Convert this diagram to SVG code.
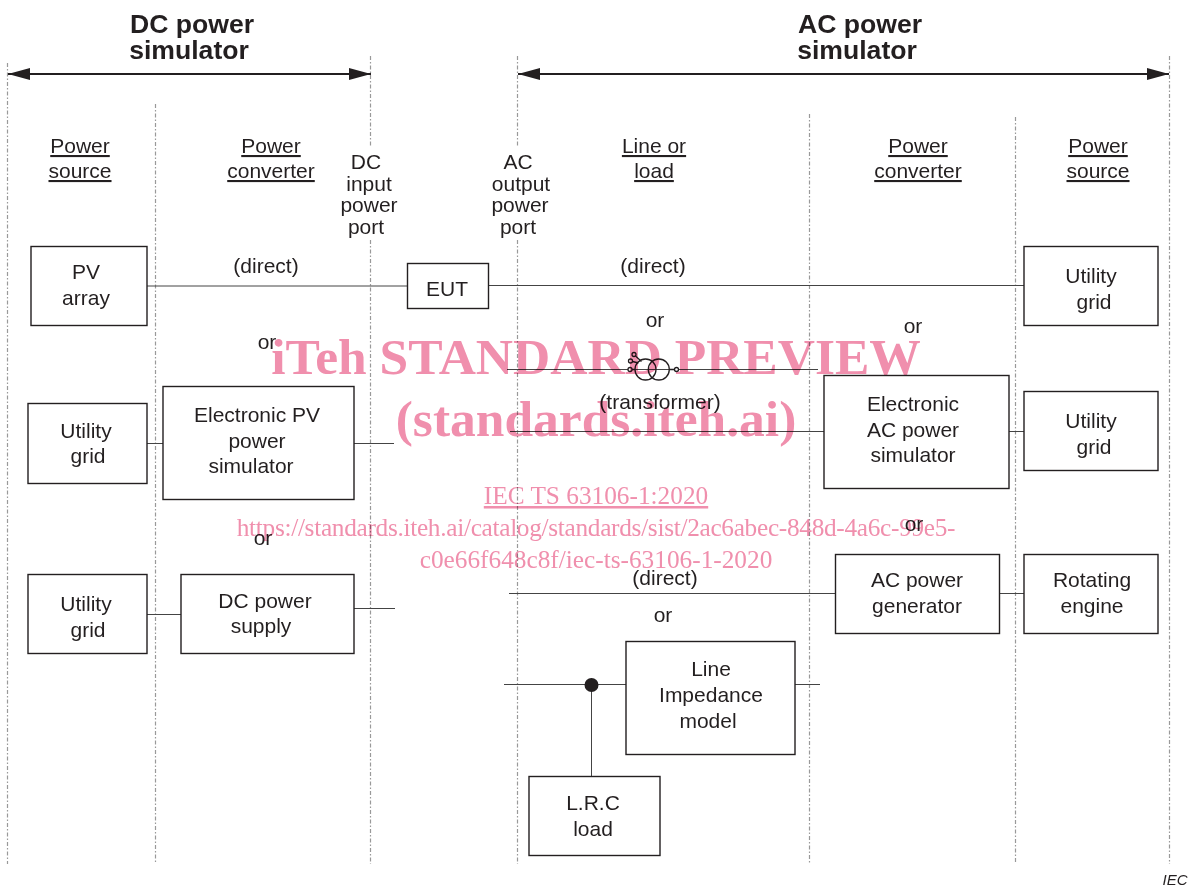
<svg xmlns="http://www.w3.org/2000/svg" width="1189" height="886" viewBox="0 0 1189 886">
<style>
text{font-family:"Liberation Sans",Arial,sans-serif;font-size:21px;fill:#231f20;text-anchor:middle}
.h{font-size:26.600px;font-weight:bold}
.u{text-decoration:underline}
.n rect{fill:#fff;stroke:#231f20;stroke-width:1.400}
.c line,.c path{stroke:#444;stroke-width:1;fill:none}
.d line{stroke:#999;stroke-width:1.200;stroke-dasharray:4 2 1.500 2;fill:none}
.w{mix-blend-mode:multiply}
.w text{font-family:"Liberation Serif",serif;fill:#f08fad}
.big{font-size:51.500px;font-weight:bold}
.sm{font-size:25.300px}
</style>
<defs><marker id="a" markerWidth="22" markerHeight="12" refX="22" refY="6" orient="auto-start-reverse" markerUnits="userSpaceOnUse"><path d="M0 0L22 6L0 12z" fill="#231f20"/></marker></defs>
<rect width="1189" height="886" fill="#fff"/>
<g class="d" id="dividers">
<line x1="7.500" y1="63" x2="7.500" y2="864"/><line x1="155.500" y1="104" x2="155.500" y2="864"/>
<line x1="370.500" y1="56" x2="370.500" y2="146"/><line x1="370.500" y1="240" x2="370.500" y2="864"/>
<line x1="517.500" y1="56" x2="517.500" y2="146"/><line x1="517.500" y1="240" x2="517.500" y2="864"/>
<line x1="809.500" y1="114" x2="809.500" y2="864"/><line x1="1015.500" y1="117" x2="1015.500" y2="864"/><line x1="1169.500" y1="56" x2="1169.500" y2="864"/>
</g>
<g class="c" id="connectors">
<line x1="147" y1="286" x2="407" y2="286"/><line x1="489" y1="285.500" x2="1024" y2="285.500"/>
<line x1="147" y1="443.500" x2="163" y2="443.500"/><line x1="354" y1="443.500" x2="394" y2="443.500"/>
<line x1="147" y1="614.500" x2="181" y2="614.500"/><line x1="354" y1="608.500" x2="395" y2="608.500"/>
<line x1="510" y1="431.500" x2="824" y2="431.500"/><line x1="1009" y1="431.500" x2="1024" y2="431.500"/>
<line x1="509" y1="593.500" x2="835" y2="593.500"/><line x1="1000" y1="593.500" x2="1024" y2="593.500"/>
<line x1="504" y1="684.500" x2="626" y2="684.500"/><line x1="795" y1="684.500" x2="820" y2="684.500"/>
<line x1="591.500" y1="684" x2="591.500" y2="776"/>
<line x1="507" y1="369.500" x2="818" y2="369.500"/>
<line x1="8" y1="74" x2="371" y2="74" style="stroke:#231f20;stroke-width:1.800" marker-start="url(#a)" marker-end="url(#a)"/>
<line x1="518" y1="74" x2="1169" y2="74" style="stroke:#231f20;stroke-width:1.800" marker-start="url(#a)" marker-end="url(#a)"/>
<circle cx="591.500" cy="685" r="7" fill="#231f20" style="stroke:none"/>
</g>
<g id="transformer" fill="none" stroke="#231f20" stroke-width="1.300">
<circle cx="645.500" cy="369.500" r="10.500"/><circle cx="658.800" cy="369.500" r="10.500"/>
<circle cx="630" cy="369.500" r="2" fill="#fff"/><circle cx="630.500" cy="361" r="2" fill="#fff"/><circle cx="634" cy="354.500" r="2" fill="#fff"/><circle cx="676.500" cy="369.500" r="2" fill="#fff"/>
<path d="M632 369.500h3M632.500 361.500l6 1.500M635.500 356l6 5.500M669.300 369.500h5.200"/>
</g>
<g class="n" id="pv-array"><rect x="31" y="246.500" width="116" height="79"/><text x="86" y="279">PV</text><text x="86" y="305">array</text></g>
<g class="n" id="eut"><rect x="407.500" y="263.500" width="81" height="45"/><text x="447" y="296">EUT</text></g>
<g class="n" id="grid-ac1"><rect x="1024" y="246.500" width="134" height="79"/><text x="1091" y="283">Utility</text><text x="1094" y="309">grid</text></g>
<g class="n" id="grid-dc1"><rect x="28" y="403.500" width="119" height="80"/><text x="86" y="438">Utility</text><text x="88" y="463">grid</text></g>
<g class="n" id="pv-sim"><rect x="163" y="386.500" width="191" height="113"/><text x="257" y="422">Electronic PV</text><text x="257" y="448">power</text><text x="251" y="473">simulator</text></g>
<g class="n" id="ac-sim"><rect x="824" y="375.500" width="185" height="113"/><text x="913" y="411">Electronic</text><text x="913" y="437">AC power</text><text x="913" y="462">simulator</text></g>
<g class="n" id="grid-ac2"><rect x="1024" y="391.500" width="134" height="79"/><text x="1091" y="428">Utility</text><text x="1094" y="454">grid</text></g>
<g class="n" id="grid-dc2"><rect x="28" y="574.500" width="119" height="79"/><text x="86" y="611">Utility</text><text x="88" y="637">grid</text></g>
<g class="n" id="dc-supply"><rect x="181" y="574.500" width="173" height="79"/><text x="265" y="608">DC power</text><text x="261" y="633">supply</text></g>
<g class="n" id="ac-gen"><rect x="835.500" y="554.500" width="164" height="79"/><text x="917" y="587">AC power</text><text x="917" y="613">generator</text></g>
<g class="n" id="engine"><rect x="1024" y="554.500" width="134" height="79"/><text x="1092" y="587">Rotating</text><text x="1092" y="613">engine</text></g>
<g class="n" id="line-imp"><rect x="626" y="641.500" width="169" height="113"/><text x="711" y="676">Line</text><text x="711" y="702">Impedance</text><text x="708" y="728">model</text></g>
<g class="n" id="lrc"><rect x="529" y="776.500" width="131" height="79"/><text x="593" y="810">L.R.C</text><text x="593" y="836">load</text></g>
<g id="labels">
<text class="h" x="192" y="33">DC power</text><text class="h" x="189" y="59">simulator</text>
<text class="h" x="860" y="33">AC power</text><text class="h" x="857" y="59">simulator</text>
<text class="u" x="80" y="153">Power</text><text class="u" x="80" y="178">source</text>
<text class="u" x="271" y="153">Power</text><text class="u" x="271" y="178">converter</text>
<text class="u" x="654" y="153">Line or</text><text class="u" x="654" y="178">load</text>
<text class="u" x="918" y="153">Power</text><text class="u" x="918" y="178">converter</text>
<text class="u" x="1098" y="153">Power</text><text class="u" x="1098" y="178">source</text>
<text x="366" y="169">DC</text><text x="369" y="191">input</text><text x="369" y="212">power</text><text x="366" y="234">port</text>
<text x="518" y="169">AC</text><text x="521" y="191">output</text><text x="520" y="212">power</text><text x="518" y="234">port</text>
<text x="266" y="273">(direct)</text><text x="653" y="273">(direct)</text>
<text x="655" y="327">or</text><text x="913" y="333">or</text><text x="267" y="349">or</text>
<text x="660" y="409">(transformer)</text>
<text x="263" y="545">or</text><text x="914" y="531">or</text>
<text x="665" y="585">(direct)</text><text x="663" y="622">or</text>
<text x="1175" y="885" style="font-size:15px;font-style:italic">IEC</text>
</g>
<g class="w" id="watermark">
<text class="big" x="596" y="374">iTeh STANDARD PREVIEW</text>
<text class="big" x="596" y="436">(standards.iteh.ai)</text>
<text class="u sm" x="596" y="504">IEC TS 63106-1:2020</text>
<text class="sm" x="596" y="536" style="letter-spacing:-.3px">https://standards.iteh.ai/catalog/standards/sist/2ac6abec-848d-4a6c-99e5-</text>
<text class="sm" x="596" y="568">c0e66f648c8f/iec-ts-63106-1-2020</text>
</g>
</svg>
